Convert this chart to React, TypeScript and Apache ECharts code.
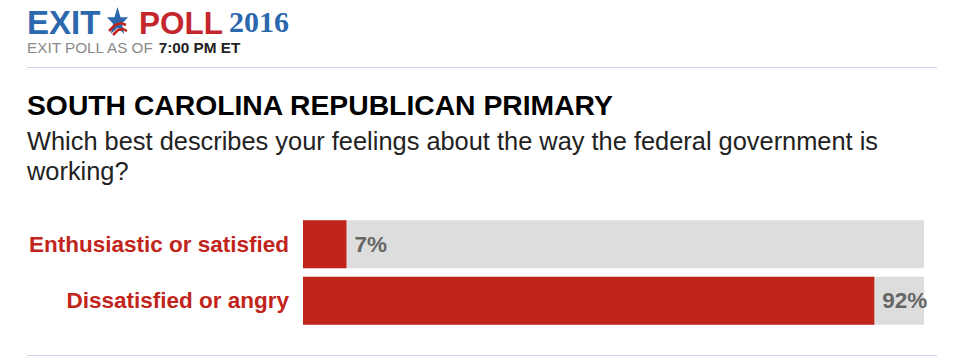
import React, { useEffect, useRef } from "react";
import * as echarts from "echarts";

const categories = ["Enthusiastic or satisfied", "Dissatisfied or angry"];
const values = [7, 92];
const title = "SOUTH CAROLINA REPUBLICAN PRIMARY";
const questionLines = [
  "Which best describes your feelings about the way the federal government is",
  "working?",
];

const RED = "#c1241b";
const BLUE = "#2b68ad";
const FONT = "'Liberation Sans', Arial, Helvetica, sans-serif";

export default function App() {
  const ref = useRef<HTMLDivElement>(null);
  useEffect(() => {
    if (!ref.current) return;
    try {
      echarts.graphic.registerShape(
        "starShape",
        echarts.graphic.extendPath(
          "M10 0 L12.9 7.6 L20 7.6 L14.2 12.4 L16.5 20 L10 15.4 L3.5 20 L5.8 12.4 L0 7.6 L7.1 7.6 Z",
          {}
        )
      );
    } catch (e) {}
    const chart = echarts.init(ref.current, null, { renderer: "svg" });
    chart.setOption({
      animation: false,
      backgroundColor: "#ffffff",
      grid: { left: 303, right: 36, top: 216, bottom: 31, containLabel: false },
      xAxis: {
        type: "value",
        min: 0,
        max: 100,
        show: false,
      },
      yAxis: {
        type: "category",
        data: categories,
        inverse: true,
        axisLine: { show: false },
        axisTick: { show: false },
        axisLabel: {
          color: RED,
          fontFamily: FONT,
          fontWeight: "bold",
          fontSize: 22.5,
          margin: 14,
        },
      },
      series: [
        {
          type: "bar",
          data: values,
          barWidth: 48,
          showBackground: true,
          backgroundStyle: { color: "#dddddd" },
          itemStyle: { color: RED },
          label: {
            show: true,
            position: "right",
            distance: 8,
            formatter: "{c}%",
            color: "#666666",
            fontFamily: FONT,
            fontWeight: "bold",
            fontSize: 22.5,
          },
        },
      ],
      graphic: [
        {
          type: "text",
          left: 27,
          top: 6,
          style: { text: "EXIT", fill: BLUE, font: `bold 33px ${FONT}` },
        },
        {
          type: "starShape",
          x: 107,
          y: 7,
          scaleX: 1.05,
          scaleY: 1.35,
          style: { fill: BLUE },
        },
        {
          type: "polyline",
          shape: { points: [[109, 31], [115, 25], [121, 23], [126, 25]] },
          style: { stroke: RED, lineWidth: 2.5, fill: "none" },
        },
        {
          type: "polyline",
          shape: { points: [[113, 35], [118, 30], [123, 29], [127, 31]] },
          style: { stroke: RED, lineWidth: 2.5, fill: "none" },
        },
        {
          type: "text",
          left: 139,
          top: 7,
          style: { text: "POLL", fill: "#c4262e", font: `bold 31.5px ${FONT}` },
        },
        {
          type: "text",
          left: 229,
          top: 6,
          style: {
            text: "2016",
            fill: BLUE,
            font: `bold 30px 'Liberation Serif', 'DejaVu Serif', serif`,
          },
        },
        {
          type: "text",
          left: 27,
          top: 40,
          style: {
            rich: {
              a: { fill: "#8a8a8a", font: `15.3px ${FONT}` },
              b: { fill: "#222222", font: `bold 15.3px ${FONT}` },
            },
            text: "{a|EXIT POLL AS OF }{b|7:00 PM ET}",
          },
        },
        {
          type: "line",
          shape: { x1: 27, y1: 67.5, x2: 937, y2: 67.5 },
          style: { stroke: "#c9d3e6", lineWidth: 1 },
        },
        {
          type: "text",
          left: 27,
          top: 91,
          style: { text: title, fill: "#000000", font: `bold 28.3px ${FONT}` },
        },
        {
          type: "text",
          left: 27,
          top: 126,
          style: {
            text: questionLines.join("\n"),
            fill: "#222222",
            font: `25.4px ${FONT}`,
            lineHeight: 30,
          },
        },
        {
          type: "line",
          shape: { x1: 27, y1: 355.5, x2: 937, y2: 355.5 },
          style: { stroke: "#c9d3e6", lineWidth: 1 },
        },
      ],
    });
    return () => chart.dispose();
  }, []);
  return (
    <div
      ref={ref}
      style={{ position: "absolute", left: 0, top: 0, width: 960, height: 360 }}
    />
  );
}
